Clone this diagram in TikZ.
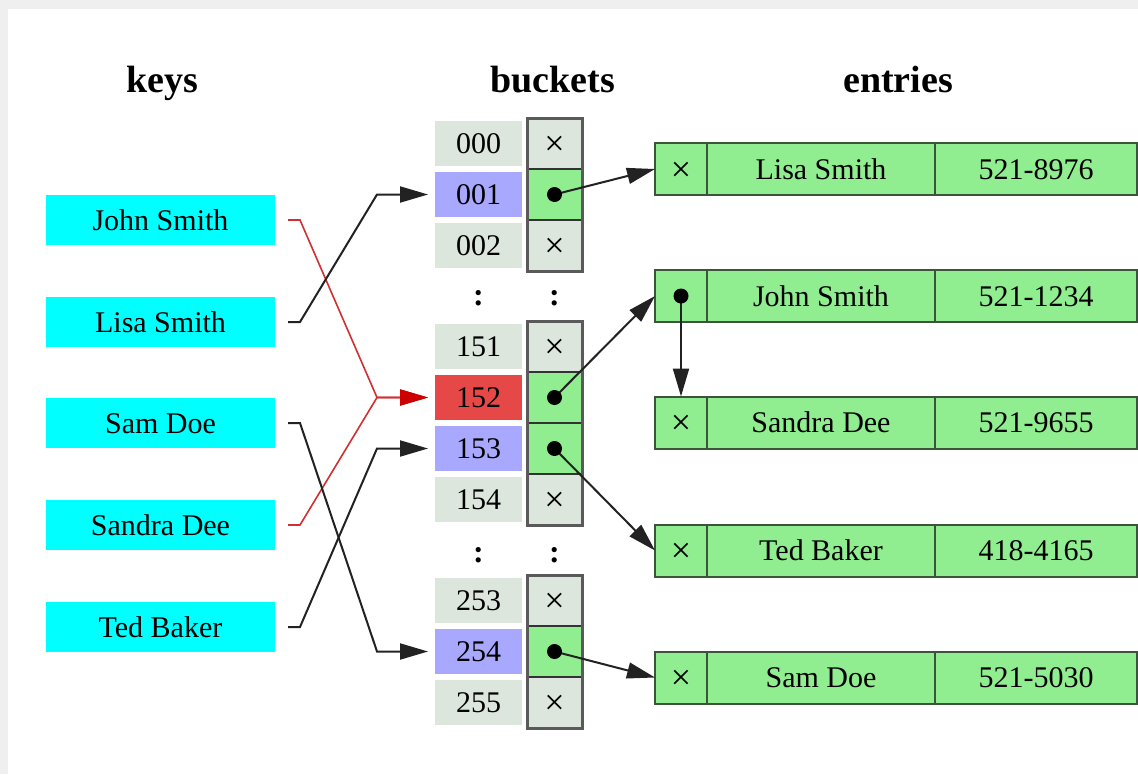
\documentclass[tikz,border=0pt]{standalone}
\usepackage{fontspec}
\setmainfont{Liberation Serif}
\usetikzlibrary{arrows.meta,calc}

\definecolor{pagegray}{HTML}{EFEFEF}
\definecolor{keycyan}{HTML}{00FFFF}
\definecolor{idxgray}{HTML}{DCE6DC}
\definecolor{idxblue}{HTML}{A8A8FF}
\definecolor{idxred}{HTML}{E64848}
\definecolor{slotgreen}{HTML}{90EE90}
\definecolor{cellline}{HTML}{333333}
\definecolor{framegray}{HTML}{5A5A5A}
\definecolor{entryline}{HTML}{3A553A}
\definecolor{linegray}{HTML}{222222}
\definecolor{linered}{HTML}{D03030}
\definecolor{headred}{HTML}{CC0000}

% empty-pointer mark and elision mark
\newcommand\nilmark{\raisebox{-2pt}{\fontsize{36}{40}\selectfont ×}}
\newcommand\gapmark{{\fontsize{32}{36}\selectfont\bfseries :}}

\begin{document}
\begin{tikzpicture}[x=1pt,y=-1pt,
  txt/.style={font=\fontsize{30}{36}\selectfont, text height=20pt, text depth=0pt, inner sep=0pt, outer sep=0pt},
  head/.style={font=\fontsize{38}{44}\selectfont\bfseries, text height=25pt, text depth=0pt, inner sep=0pt},
  keybox/.style={txt, fill=keycyan, minimum width=229pt, minimum height=50pt},
  idx/.style={txt, fill=idxgray, minimum width=87pt, minimum height=45pt},
  slot/.style={txt, draw=cellline, line width=1.5pt, fill=idxgray, minimum width=55pt, minimum height=51pt},
  used/.style={fill=slotgreen},
  frame/.style={draw=framegray, line width=3pt},
  ecell/.style={txt, draw=entryline, line width=2pt, fill=slotgreen, minimum height=52pt},
  eptr/.style={ecell, minimum width=52pt},
  ename/.style={ecell, minimum width=228pt},
  ephone/.style={ecell, minimum width=202pt},
  keyline/.style={draw=linegray, line width=2pt, shorten <=13pt, shorten >=7pt,
    -{Triangle[length=28pt,width=16pt]}},
  redline/.style={draw=linered, line width=1.6pt, shorten <=13pt, shorten >=7pt,
    -{Triangle[length=28pt,width=16pt,color=headred]}},
  ptr/.style={draw=linegray, line width=2pt, -{Triangle[length=28pt,width=16pt]}},
  dot/.style={fill=black}
]
% page and margins
\fill[pagegray] (0,0) rectangle (1138,774);
\fill[white] (8,9) rectangle (1138,774);
\useasboundingbox (0,0) rectangle (1138,774);

% column headings
\node[head] (hkeys) at (162,80) {keys};
\node[head] (hbuckets) at (553,80) {buckets};
\node[head] (hentries) at (898,80) {entries};

% keys
\node[keybox] (kJohn)   at (160.5,220) {John Smith};
\node[keybox] (kLisa)   at (160.5,322) {Lisa Smith};
\node[keybox] (kSam)    at (160.5,423) {Sam Doe};
\node[keybox] (kSandra) at (160.5,525) {Sandra Dee};
\node[keybox] (kTed)    at (160.5,627) {Ted Baker};

% bucket indices
\node[idx] (ix000) at (478.5,143.5) {000};
\node[idx, fill=idxblue] (ix001) at (478.5,194.5) {001};
\node[idx] (ix002) at (478.5,245.5) {002};
\node[idx] (ix151) at (478.5,346.5) {151};
\node[idx, fill=idxred] (ix152) at (478.5,397.5) {152};
\node[idx, fill=idxblue] (ix153) at (478.5,448.5) {153};
\node[idx] (ix154) at (478.5,499.5) {154};
\node[idx] (ix253) at (478.5,600.5) {253};
\node[idx, fill=idxblue] (ix254) at (478.5,651.5) {254};
\node[idx] (ix255) at (478.5,702.5) {255};

% bucket slots
\node[slot] (pc000) at (554.5,143.5) {\nilmark};
\node[slot, used] (pc001) at (554.5,194.5) {};
\node[slot] (pc002) at (554.5,245.5) {\nilmark};
\node[slot] (pc151) at (554.5,346.5) {\nilmark};
\node[slot, used] (pc152) at (554.5,397.5) {};
\node[slot, used] (pc153) at (554.5,448.5) {};
\node[slot] (pc154) at (554.5,499.5) {\nilmark};
\node[slot] (pc253) at (554.5,600.5) {\nilmark};
\node[slot, used] (pc254) at (554.5,651.5) {};
\node[slot] (pc255) at (554.5,702.5) {\nilmark};
\draw[frame] (pc000.north west) rectangle (pc002.south east);
\draw[frame] (pc151.north west) rectangle (pc154.south east);
\draw[frame] (pc253.north west) rectangle (pc255.south east);

% elided rows
\node[txt] (gapA1) at (478.5,295) {\gapmark};
\node[txt] (gapA2) at (554.5,295) {\gapmark};
\node[txt] (gapB1) at (478.5,552) {\gapmark};
\node[txt] (gapB2) at (554.5,552) {\gapmark};

% entries
\node[eptr]   (e1p) at (681,169) {\nilmark};
\node[ename]  (e1n) at (821,169) {Lisa Smith};
\node[ephone] (e1t) at (1036,169) {521-8976};
\node[eptr]   (e2p) at (681,296) {};
\node[ename]  (e2n) at (821,296) {John Smith};
\node[ephone] (e2t) at (1036,296) {521-1234};
\node[eptr]   (e3p) at (681,422.5) {\nilmark};
\node[ename]  (e3n) at (821,422.5) {Sandra Dee};
\node[ephone] (e3t) at (1036,422.5) {521-9655};
\node[eptr]   (e4p) at (681,550.5) {\nilmark};
\node[ename]  (e4n) at (821,550.5) {Ted Baker};
\node[ephone] (e4t) at (1036,550.5) {418-4165};
\node[eptr]   (e5p) at (681,677.5) {\nilmark};
\node[ename]  (e5n) at (821,677.5) {Sam Doe};
\node[ephone] (e5t) at (1036,677.5) {521-5030};

% keys hashed to buckets
\draw[redline] (kJohn.east) -- ++(25,0) -- ($(ix152.west)+(-58,0)$) -- (ix152.west);
\draw[redline] (kSandra.east) -- ++(25,0) -- ($(ix152.west)+(-58,0)$) -- (ix152.west);
\draw[keyline] (kLisa.east) -- ++(25,0) -- ($(ix001.west)+(-58,0)$) -- (ix001.west);
\draw[keyline] (kSam.east) -- ++(25,0) -- ($(ix254.west)+(-58,0)$) -- (ix254.west);
\draw[keyline] (kTed.east) -- ++(25,0) -- ($(ix153.west)+(-58,0)$) -- (ix153.west);

% bucket pointers to entries
\draw[ptr] (pc001.center) -- (e1p.west);
\draw[ptr] (pc152.center) -- (e2p.west);
\draw[ptr] (pc153.center) -- (e4p.west);
\draw[ptr] (pc254.center) -- (e5p.west);
\draw[ptr] (e2p.center) -- (e3p.north);

% pointer dots
\fill[dot] (pc001.center) circle (7.5);
\fill[dot] (pc152.center) circle (7.5);
\fill[dot] (pc153.center) circle (7.5);
\fill[dot] (pc254.center) circle (7.5);
\fill[dot] (e2p.center) circle (7.5);
\end{tikzpicture}
\end{document}
